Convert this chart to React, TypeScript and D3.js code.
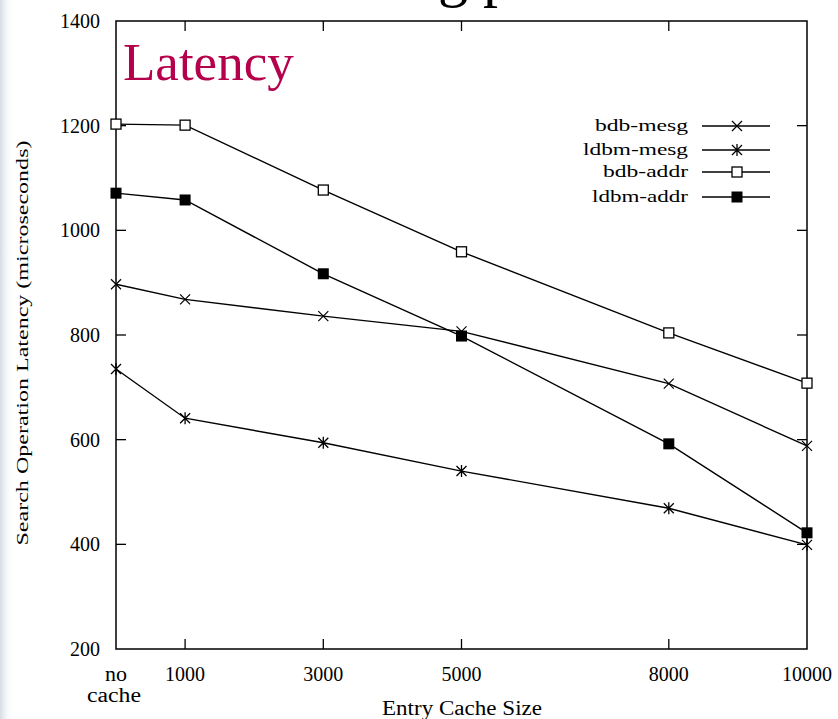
import React from "react";
import * as d3 from "d3";

const cacheSizes = [0, 1000, 3000, 5000, 8000, 10000];
const xTickLabels = ["no cache", "1000", "3000", "5000", "8000", "10000"];
const yTicks = [200, 400, 600, 800, 1000, 1200, 1400];

const bdbMesg = [897, 868, 836, 807, 707, 588];
const ldbmMesg = [735, 641, 594, 540, 469, 399];
const bdbAddr = [1203, 1201, 1077, 959, 804, 708];
const ldbmAddr = [1071, 1058, 917, 798, 592, 422];

const seriesNames = ["bdb-mesg", "ldbm-mesg", "bdb-addr", "ldbm-addr"];
const seriesMarkers = ["cross", "star", "openSquare", "filledSquare"];
const legendTextWidths = [93, 105, 85, 96];

const W = 838;
const H = 719;
const plot = { left: 116, right: 807, top: 21, bottom: 649 };
const FONT = "'Liberation Serif', 'DejaVu Serif', serif";

function Marker({ type, x, y }: { type: string; x: number; y: number }) {
  const s = 5;
  if (type === "cross") {
    return (
      <path
        d={`M${x - s},${y - s}L${x + s},${y + s}M${x - s},${y + s}L${x + s},${y - s}`}
        stroke="#000"
        strokeWidth={1.2}
        fill="none"
      />
    );
  }
  if (type === "star") {
    return (
      <path
        d={`M${x - s},${y - s}L${x + s},${y + s}M${x - s},${y + s}L${x + s},${y - s}M${x},${y - s - 1}L${x},${y + s + 1}`}
        stroke="#000"
        strokeWidth={1.3}
        fill="none"
      />
    );
  }
  if (type === "openSquare") {
    return (
      <rect x={x - 5} y={y - 5} width={10} height={10} fill="#fff" stroke="#000" strokeWidth={1.3} />
    );
  }
  return <rect x={x - 5.5} y={y - 5.5} width={11} height={11} fill="#000" />;
}

export default function App() {
  const x = d3.scaleLinear().domain([0, 10000]).range([plot.left, plot.right]);
  const y = d3.scaleLinear().domain([200, 1400]).range([plot.bottom, plot.top]);
  const allSeries = [bdbMesg, ldbmMesg, bdbAddr, ldbmAddr];
  const line = d3
    .line<number>()
    .x((_, i) => x(cacheSizes[i]))
    .y((d) => y(d));

  const innerXTicks = cacheSizes.slice(1, -1);
  const innerYTicks = yTicks.slice(1, -1);
  const tickLen = 10;

  const legendRows = [126, 150, 172, 197];

  return (
    <svg
      width={W}
      height={H}
      style={{ position: "absolute", left: 0, top: 0, background: "#fff" }}
      fontFamily={FONT}
    >
      <defs>
        <linearGradient id="edge" x1="0" x2="1" y1="0" y2="0">
          <stop offset="0" stopColor="#d5dce4" />
          <stop offset="1" stopColor="#ffffff" stopOpacity={0} />
        </linearGradient>
      </defs>
      <rect x={0} y={0} width={W} height={H} fill="#fff" />
      <rect x={0} y={0} width={14} height={H} fill="url(#edge)" />

      {/* cut-off slide title */}
      <text x={438} y={-5} fontSize={60} fontFamily={FONT} fill="#000">
        g p
      </text>

      {/* plot frame */}
      <rect
        x={plot.left}
        y={plot.top}
        width={plot.right - plot.left}
        height={plot.bottom - plot.top}
        fill="none"
        stroke="#000"
        strokeWidth={1.5}
      />

      {innerXTicks.map((v) => (
        <g key={"xt" + v}>
          <line x1={x(v)} x2={x(v)} y1={plot.bottom} y2={plot.bottom - tickLen} stroke="#000" strokeWidth={1.3} />
          <line x1={x(v)} x2={x(v)} y1={plot.top} y2={plot.top + tickLen} stroke="#000" strokeWidth={1.3} />
        </g>
      ))}
      {innerYTicks.map((v) => (
        <g key={"yt" + v}>
          <line x1={plot.left} x2={plot.left + tickLen} y1={y(v)} y2={y(v)} stroke="#000" strokeWidth={1.3} />
          <line x1={plot.right} x2={plot.right - tickLen} y1={y(v)} y2={y(v)} stroke="#000" strokeWidth={1.3} />
        </g>
      ))}

      {yTicks.map((v) => (
        <text key={"yl" + v} x={plot.left - 16} y={y(v) + 7} fontSize={20} textAnchor="end" fill="#000">
          {v}
        </text>
      ))}

      {cacheSizes.map((v, i) =>
        i === 0 ? (
          <g key="xl0">
            <text x={x(v)} y={681} fontSize={20} textAnchor="middle" fill="#000" textLength={22} lengthAdjust="spacingAndGlyphs" dx={0}>
              no
            </text>
            <text x={x(v) - 2} y={702} fontSize={20} textAnchor="middle" fill="#000" textLength={54} lengthAdjust="spacingAndGlyphs">
              cache
            </text>
          </g>
        ) : (
          <text key={"xl" + v} x={x(v)} y={681} fontSize={20} textAnchor="middle" fill="#000">
            {xTickLabels[i]}
          </text>
        )
      )}

      <text x={462} y={715} fontSize={20} textAnchor="middle" fill="#000" textLength={160} lengthAdjust="spacingAndGlyphs">
        Entry Cache Size
      </text>
      <text
        transform={`translate(28, 343) rotate(-90)`}
        fontSize={17}
        textAnchor="middle"
        fill="#000"
        textLength={405}
        lengthAdjust="spacingAndGlyphs"
      >
        Search Operation Latency (microseconds)
      </text>

      <text x={123} y={80} fontSize={53} fill="#b5004b" fontFamily={FONT}>
        Latency
      </text>

      {allSeries.map((s, si) => (
        <path key={"ln" + si} d={line(s) || ""} fill="none" stroke="#000" strokeWidth={1.4} />
      ))}
      {allSeries.map((s, si) =>
        s.map((v, i) => (
          <Marker key={`m${si}-${i}`} type={seriesMarkers[si]} x={x(cacheSizes[i])} y={y(v)} />
        ))
      )}

      {seriesNames.map((name, i) => (
        <g key={"lg" + name}>
          <text
            x={688}
            y={legendRows[i] + 5}
            fontSize={17}
            textAnchor="end"
            fill="#000"
            textLength={legendTextWidths[i]}
            lengthAdjust="spacingAndGlyphs"
          >
            {name}
          </text>
          <line x1={702} x2={770} y1={legendRows[i]} y2={legendRows[i]} stroke="#000" strokeWidth={1.4} />
          <Marker type={seriesMarkers[i]} x={737} y={legendRows[i]} />
        </g>
      ))}
    </svg>
  );
}
